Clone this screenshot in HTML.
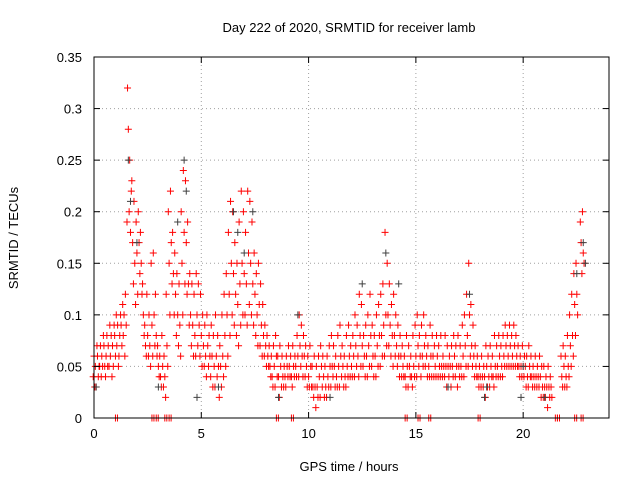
<!DOCTYPE html>
<html><head><meta charset="utf-8"><style>
body{margin:0;background:#fff;}
svg text{font-family:"Liberation Sans",sans-serif;font-size:13px;fill:#000;}
</style></head><body>
<svg id="chart" width="640" height="480" viewBox="0 0 640 480" xmlns="http://www.w3.org/2000/svg">
<rect width="640" height="480" fill="#fff"/>
<text x="349" y="32" text-anchor="middle">Day 222 of 2020, SRMTID for receiver lamb</text>
<text x="349" y="471" text-anchor="middle">GPS time / hours</text>
<text transform="translate(18,238) rotate(-90)" text-anchor="middle">SRMTID / TECUs</text>
<g id="grid"></g>
<g id="pts"></g>
<rect x="94" y="57" width="515" height="361" fill="none" stroke="#000" stroke-width="1"/>
<g id="ticks"></g>
</svg>
<script>
const xTicks=[0,5,10,15,20];
const yTicks=[0,0.05,0.1,0.15,0.2,0.25,0.3,0.35];
const yTickLabels=["0","0.05","0.1","0.15","0.2","0.25","0.3","0.35"];
const redT=[0,0.1,0.2,0.3,0.4,0.5,0.6,0.7,0.8,0.9,1,1.1,1.2,1.3,1.4,1.5,1.6,1.7,1.8,1.9,2,2.1,2.2,2.3,2.4,2.5,2.6,2.7,2.8,2.9,3,3.1,3.2,3.3,3.4,3.5,3.6,3.7,3.8,3.9,4,4.1,4.2,4.3,4.4,4.5,4.6,4.7,4.8,4.9,5,5.1,5.2,5.3,5.4,5.5,5.6,5.7,5.8,5.9,6,6.1,6.2,6.3,6.4,6.5,6.6,6.7,6.8,6.9,7,7.1,7.2,7.3,7.4,7.5,7.6,7.7,7.8,7.9,8,8.1,8.2,8.3,8.4,8.5,8.6,8.7,8.8,8.9,9,9.1,9.2,9.3,9.4,9.5,9.6,9.7,9.8,9.9,10,10.1,10.2,10.3,10.4,10.5,10.6,10.7,10.8,10.9,11,11.1,11.2,11.3,11.4,11.5,11.6,11.7,11.8,11.9,12,12.1,12.2,12.3,12.4,12.5,12.6,12.7,12.8,12.9,13,13.1,13.2,13.3,13.4,13.5,13.6,13.7,13.8,13.9,14,14.1,14.2,14.3,14.4,14.5,14.6,14.7,14.8,14.9,15,15.1,15.2,15.3,15.4,15.5,15.6,15.7,15.8,15.9,16,16.1,16.2,16.3,16.4,16.5,16.6,16.7,16.8,16.9,17,17.1,17.2,17.3,17.4,17.5,17.6,17.7,17.8,17.9,18,18.1,18.2,18.3,18.4,18.5,18.6,18.7,18.8,18.9,19,19.1,19.2,19.3,19.4,19.5,19.6,19.7,19.8,19.9,20,20.1,20.2,20.3,20.4,20.5,20.6,20.7,20.8,20.9,21,21.1,21.2,21.3,21.8,21.9,22,22.1,22.2,22.3,22.4,22.5,22.7,22.8];
const redV=[[.04,.06,.03],[.05,.03,.07],[.06,.04,.05],[.05,.07,.04],[.06,.05,.08],[.07,.05,.04],[.06,.08,.05],[.07,.05,.09],[.06,.08,.04],[.07,.05,.09],[.08,.06,.1],[.07,.09,.05],[.06,.08,.1],[.09,.07,.11],[.08,.1,.06],[.12,.09,.19],[.32,.28,.2],[.25,.18,.22],[.23,.17,.13],[.21,.15,.11],[.19,.16,.12],[.2,.17,.14],[.18,.15,.12],[.13,.1,.08],[.09,.07,.06],[.12,.08,.06],[.1,.07,.05],[.15,.09,.06],[.16,.1,.07],[.12,.08,.06],[.07,.05,.04],[.06,.04,.03],[.08,.05,.03],[.06,.04,.02],[.12,.07,.05],[.2,.15,.1],[.22,.17,.13],[.18,.14,.1],[.16,.12,.08],[.14,.1,.07],[.13,.09,.06],[.2,.15,.1],[.24,.18,.13],[.23,.17,.12],[.19,.13,.09],[.14,.1,.07],[.13,.09,.06],[.12,.08,.06],[.14,.1,.07],[.13,.09,.06],[.12,.08,.05],[.1,.07,.05],[.09,.06,.04],[.1,.07,.05],[.08,.06,.04],[.09,.06,.03],[.08,.05,.03],[.1,.06,.04],[.08,.05,.02],[.07,.05,.03],[.1,.06,.04],[.12,.08,.05],[.14,.1,.06],[.18,.12,.08],[.21,.15,.1],[.2,.14,.09],[.17,.12,.08],[.15,.11,.07],[.19,.13,.09],[.22,.15,.1],[.2,.14,.1],[.18,.13,.09],[.22,.16,.11],[.21,.15,.1],[.19,.13,.09],[.16,.12,.08],[.14,.1,.07],[.15,.11,.07],[.13,.09,.06],[.11,.08,.06],[.09,.07,.05],[.08,.06,.05],[.07,.05,.04],[.06,.04,.03],[.07,.05,.03],[.08,.06,.04],[.06,.04,.02],[.07,.05,.03],[.06,.04,.03],[.05,.04,.03],[.06,.05,.04],[.07,.05,.04],[.06,.04,.03],[.07,.05,.04],[.06,.05,.04],[.08,.06,.04],[.1,.07,.05],[.09,.06,.04],[.08,.06,.04],[.07,.05,.03],[.06,.04,.03],[.07,.05,.03],[.05,.03,.02],[.06,.03,.01],[.05,.03,.02],[.06,.04,.02],[.07,.05,.03],[.06,.04,.02],[.05,.03,.02],[.06,.04,.03],[.07,.05,.03],[.08,.05,.04],[.07,.05,.03],[.06,.04,.03],[.08,.05,.03],[.09,.06,.04],[.07,.05,.03],[.06,.04,.03],[.08,.05,.04],[.09,.06,.04],[.07,.05,.04],[.08,.06,.04],[.1,.07,.05],[.09,.06,.04],[.12,.08,.05],[.11,.07,.05],[.08,.06,.04],[.09,.06,.04],[.1,.07,.05],[.12,.08,.05],[.09,.06,.04],[.08,.06,.04],[.1,.07,.05],[.11,.08,.05],[.12,.08,.06],[.13,.09,.06],[.18,.1,.07],[.15,.1,.07],[.13,.09,.06],[.11,.08,.05],[.12,.08,.06],[.1,.07,.05],[.09,.06,.04],[.08,.06,.04],[.07,.05,.04],[.06,.04,.03],[.08,.05,.03],[.07,.05,.04],[.06,.04,.03],[.08,.05,.04],[.09,.06,.04],[.1,.07,.05],[.08,.06,.04],[.09,.06,.05],[.1,.07,.05],[.08,.06,.04],[.07,.05,.04],[.09,.06,.04],[.08,.06,.04],[.07,.05,.04],[.08,.06,.04],[.07,.05,.04],[.08,.05,.04],[.06,.05,.04],[.08,.05,.03],[.07,.05,.04],[.06,.05,.03],[.07,.05,.04],[.08,.06,.04],[.07,.05,.03],[.08,.05,.04],[.07,.05,.04],[.09,.06,.04],[.1,.07,.05],[.12,.08,.05],[.15,.1,.06],[.11,.07,.05],[.09,.06,.04],[.07,.05,.04],[.06,.04,.03],[.05,.04,.03],[.06,.04,.03],[.05,.04,.02],[.07,.05,.03],[.06,.04,.03],[.07,.05,.04],[.06,.04,.03],[.08,.05,.04],[.07,.05,.04],[.08,.06,.04],[.07,.05,.04],[.08,.06,.05],[.09,.07,.05],[.08,.06,.05],[.09,.07,.05],[.08,.06,.05],[.09,.07,.05],[.08,.06,.05],[.07,.05,.04],[.06,.05,.04],[.07,.05,.04],[.06,.05,.03],[.06,.04,.03],[.07,.05,.04],[.06,.04,.03],[.05,.04,.03],[.06,.04,.03],[.05,.04,.03],[.06,.04,.02],[.05,.03,.02],[.05,.03,.02],[.04,.03,.01],[.05,.03,.02],[.04,.03,.02],[.06,.04,.03],[.07,.05,.03],[.06,.04,.03],[.08,.05,.04],[.1,.07,.05],[.12,.08,.06],[.14,.11,.08],[.15,.12,.1],[.19,.17,.14],[.2,.16,.15]];
const blkT=[0.1,1.6,1.7,2.0,3.0,3.9,4.2,4.3,4.8,5.8,6.5,6.7,7.0,7.4,8.6,9.5,11.0,12.5,13.6,14.2,16.5,17.5,18.2,18.3,19.9,20.0,21.0,22.5,22.8,22.9];
const blkV=[.03,.25,.21,.17,.03,.19,.25,.22,.02,.03,.2,.18,.16,.2,.02,.1,.02,.13,.16,.13,.03,.12,.02,.03,.02,.05,.02,.14,.17,.15];
const zeroT=[1.0,2.7,2.9,3.3,3.5,8.5,9.2,14.5,15.1,15.6,17.9,21.5,21.6,22.4,22.7];

const X0=94,X1=609,Y0=418,Y1=57,XMAX=24,YMAX=0.35;
const sx=t=>X0+(X1-X0)*t/XMAX;
const sy=v=>Y0-(Y0-Y1)*v/YMAX;
const NS="http://www.w3.org/2000/svg";
const grid=document.getElementById('grid'),ticks=document.getElementById('ticks'),pts=document.getElementById('pts');
function mk(tag,attrs,parent){const e=document.createElementNS(NS,tag);for(const k in attrs)e.setAttribute(k,attrs[k]);parent.appendChild(e);return e;}
xTicks.forEach(t=>{
  const x=sx(t);
  if(t>0){const g=mk('line',{x1:x,x2:x,y1:Y1,y2:Y0,stroke:'#a0a0a0','stroke-dasharray':'1,3'},grid);
  
  }
  mk('line',{x1:x,x2:x,y1:Y0,y2:Y0-6,stroke:'#000'},ticks);
  mk('line',{x1:x,x2:x,y1:Y1,y2:Y1+6,stroke:'#000'},ticks);
  const l=mk('text',{x:x,y:Y0+20,'text-anchor':'middle'},ticks);l.textContent=t;
  
  
});
yTicks.forEach((v,i)=>{
  const y=sy(v);
  if(v>0&&v<YMAX){const g=mk('line',{x1:X0,x2:X1,y1:y,y2:y,stroke:'#a0a0a0','stroke-dasharray':'1,3'},grid);
  
  }
  mk('line',{x1:X0,x2:X0+6,y1:y,y2:y,stroke:'#000'},ticks);
  mk('line',{x1:X1,x2:X1-6,y1:y,y2:y,stroke:'#000'},ticks);
  const l=mk('text',{x:X0-12,y:y+5,'text-anchor':'end'},ticks);l.textContent=yTickLabels[i];
  
  
});
function plus(x,y,c,name){
  const p=mk('path',{d:`M${x-3.5},${y}h7M${x},${y-3.5}v7`,stroke:c,'stroke-width':1,fill:'none'},pts);
  
  
}
redT.forEach((t,i)=>{redV[i].forEach((v,j)=>{plus(sx(t)+(j-1)*0.8,sy(v),'#ff0000','red-point');});});
blkT.forEach((t,i)=>{plus(sx(t),sy(blkV[i]),'#404040','black-point');});
zeroT.forEach(t=>{plus(sx(t),sy(0),'#ff0000','zero-point');plus(sx(t)+2,sy(0),'#ff0000','zero-point');});
</script>
</body></html>
